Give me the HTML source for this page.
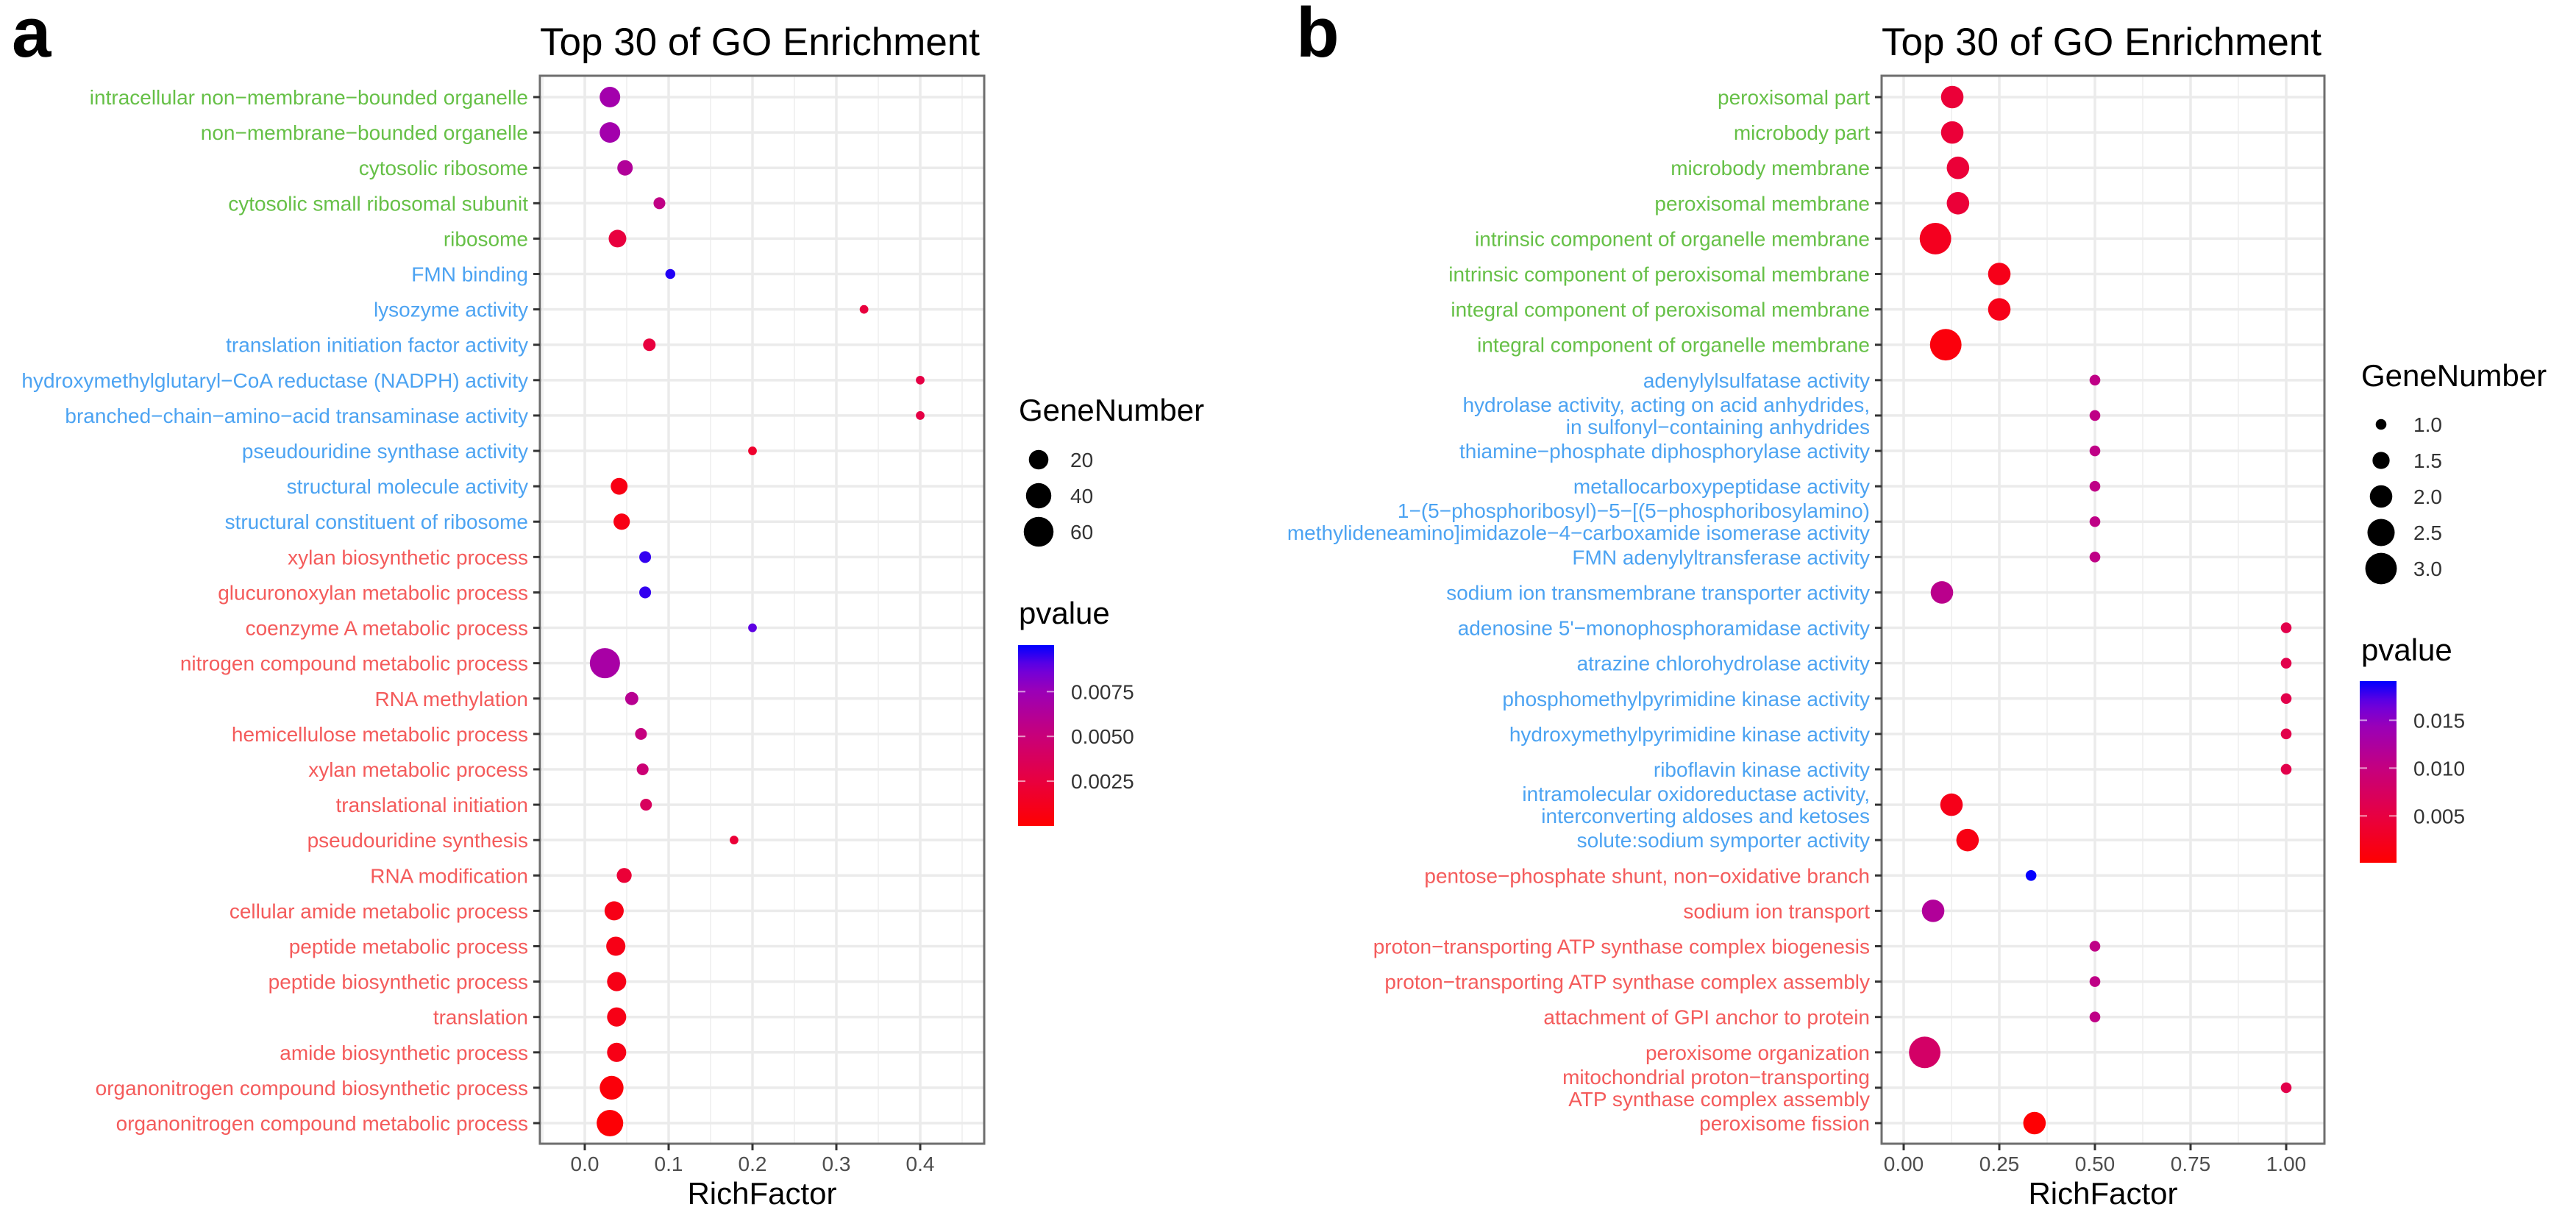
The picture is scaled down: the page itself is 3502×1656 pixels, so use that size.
<!DOCTYPE html>
<html><head><meta charset="utf-8"><style>
html,body{margin:0;padding:0;background:#fff;}
svg{display:block;font-family:"Liberation Sans",Arial,sans-serif;}
</style></head><body>
<svg id="fig" width="3502" height="1656" viewBox="0 0 3502 1656" xmlns="http://www.w3.org/2000/svg">
<rect x="0" y="0" width="3502" height="1656" fill="#fff"/>
<text x="16" y="77" font-size="96" font-weight="bold" fill="#000">a</text>
<text x="1762" y="77" font-size="96" font-weight="bold" fill="#000">b</text>
</svg>
<script>
// ---------- Panel A data ----------
const termsA = ["intracellular non\u2212membrane\u2212bounded organelle","non\u2212membrane\u2212bounded organelle","cytosolic ribosome","cytosolic small ribosomal subunit","ribosome","FMN binding","lysozyme activity","translation initiation factor activity","hydroxymethylglutaryl\u2212CoA reductase (NADPH) activity","branched\u2212chain\u2212amino\u2212acid transaminase activity","pseudouridine synthase activity","structural molecule activity","structural constituent of ribosome","xylan biosynthetic process","glucuronoxylan metabolic process","coenzyme A metabolic process","nitrogen compound metabolic process","RNA methylation","hemicellulose metabolic process","xylan metabolic process","translational initiation","pseudouridine synthesis","RNA modification","cellular amide metabolic process","peptide metabolic process","peptide biosynthetic process","translation","amide biosynthetic process","organonitrogen compound biosynthetic process","organonitrogen compound metabolic process"];
const groupA = ["CC","CC","CC","CC","CC","MF","MF","MF","MF","MF","MF","MF","MF","BP","BP","BP","BP","BP","BP","BP","BP","BP","BP","BP","BP","BP","BP","BP","BP","BP"];
const richA = [0.030,0.030,0.048,0.089,0.039,0.102,0.333,0.077,0.400,0.400,0.200,0.041,0.044,0.072,0.072,0.200,0.024,0.056,0.067,0.069,0.073,0.178,0.047,0.035,0.037,0.038,0.038,0.038,0.032,0.030];
const genesA = [23,23,10,4,15,2,1,5,1,1,1,13,12,4,4,1,62,6,4,4,4,1,9,19,19,19,19,19,34,45];
const pA = [0.0071,0.0071,0.0063,0.0055,0.0025,0.0097,0.0025,0.0025,0.0028,0.0028,0.0018,0.0008,0.0008,0.0095,0.0095,0.0090,0.0068,0.0060,0.0052,0.0048,0.0038,0.0022,0.0022,0.0009,0.0009,0.0009,0.0009,0.0009,0.0004,0.0002];
const xTicksA = [0.0,0.1,0.2,0.3,0.4];
const xTickLabelsA = ["0.0","0.1","0.2","0.3","0.4"];
const sizeBreaksA = [20,40,60];
const pBreaksA = [0.0025,0.0050,0.0075];
const pBreakLabelsA = ["0.0025","0.0050","0.0075"];
const pRangeA = [0.0, 0.0101];

// ---------- Panel B data ----------
const termsB = ["peroxisomal part","microbody part","microbody membrane","peroxisomal membrane","intrinsic component of organelle membrane","intrinsic component of peroxisomal membrane","integral component of peroxisomal membrane","integral component of organelle membrane","adenylylsulfatase activity","hydrolase activity, acting on acid anhydrides,|in sulfonyl\u2212containing anhydrides","thiamine\u2212phosphate diphosphorylase activity","metallocarboxypeptidase activity","1\u2212(5\u2212phosphoribosyl)\u22125\u2212[(5\u2212phosphoribosylamino)|methylideneamino]imidazole\u22124\u2212carboxamide isomerase activity","FMN adenylyltransferase activity","sodium ion transmembrane transporter activity","adenosine 5'\u2212monophosphoramidase activity","atrazine chlorohydrolase activity","phosphomethylpyrimidine kinase activity","hydroxymethylpyrimidine kinase activity","riboflavin kinase activity","intramolecular oxidoreductase activity,|interconverting aldoses and ketoses","solute:sodium symporter activity","pentose\u2212phosphate shunt, non\u2212oxidative branch","sodium ion transport","proton\u2212transporting ATP synthase complex biogenesis","proton\u2212transporting ATP synthase complex assembly","attachment of GPI anchor to protein","peroxisome organization","mitochondrial proton\u2212transporting|ATP synthase complex assembly","peroxisome fission"];
const groupB = ["CC","CC","CC","CC","CC","CC","CC","CC","MF","MF","MF","MF","MF","MF","MF","MF","MF","MF","MF","MF","MF","MF","BP","BP","BP","BP","BP","BP","BP","BP"];
const richB = [0.127,0.127,0.142,0.142,0.083,0.250,0.250,0.110,0.5,0.5,0.5,0.5,0.5,0.5,0.100,1.0,1.0,1.0,1.0,1.0,0.125,0.167,0.333,0.077,0.5,0.5,0.5,0.055,1.0,0.342];
const genesB = [2,2,2,2,3,2,2,3,1,1,1,1,1,1,2,1,1,1,1,1,2,2,1,2,1,1,1,3,1,2];
const pB = [0.0043,0.0043,0.0043,0.0043,0.0024,0.0020,0.0020,0.0010,0.0105,0.0105,0.0105,0.0105,0.0105,0.0105,0.0110,0.0058,0.0058,0.0058,0.0058,0.0058,0.0020,0.0015,0.0190,0.0120,0.0105,0.0105,0.0105,0.0080,0.0058,0.0003];
const xTicksB = [0.0,0.25,0.5,0.75,1.0];
const xTickLabelsB = ["0.00","0.25","0.50","0.75","1.00"];
const sizeBreaksB = [1.0,1.5,2.0,2.5,3.0];
const sizeBreakLabelsB = ["1.0","1.5","2.0","2.5","3.0"];
const pBreaksB = [0.005,0.010,0.015];
const pBreakLabelsB = ["0.005","0.010","0.015"];
const pRangeB = [0.0001, 0.0191];

const NS = "http://www.w3.org/2000/svg";
const svg = document.getElementById("fig");
const groupColor = {CC:"#66C047", MF:"#4CA3F2", BP:"#F45B5B"};

function mk(tag, attrs, parent) {
  const e = document.createElementNS(NS, tag);
  for (const k in attrs) e.setAttribute(k, attrs[k]);
  (parent || svg).appendChild(e);
  return e;
}
function hex(c){return [parseInt(c.slice(1,3),16),parseInt(c.slice(3,5),16),parseInt(c.slice(5,7),16)];}
const stops = [[0,"#FF0000"],[0.25,"#E8003F"],[0.5,"#C8007A"],[0.75,"#9A00B8"],[0.88,"#6800E0"],[1,"#0000FF"]];
function gradColor(t) {
  t = Math.max(0, Math.min(1, t));
  for (let i = 0; i < stops.length - 1; i++) {
    const [t0,c0] = stops[i], [t1,c1] = stops[i+1];
    if (t <= t1) {
      const f = (t - t0) / (t1 - t0), a = hex(c0), b = hex(c1);
      return "rgb(" + a.map((v,j)=>Math.round(v + (b[j]-v)*f)).join(",") + ")";
    }
  }
  return stops[stops.length-1][1];
}

function drawPanel(cfg) {
  const g = mk("g", {});
  
  
  const {left, right, top, bottom, x0, xScale, row0, rowStep} = cfg;
  const xPos = v => x0 + v * xScale;
  const yPos = i => row0 + i * rowStep;
  const title = mk("text", {x: left, y: 75, "font-size": 53, fill: "#000"}, g);
  title.textContent = "Top 30 of GO Enrichment";
  
  
  const bg = mk("rect", {x:left, y:top, width:right-left, height:bottom-top, fill:"#fff"}, g);
  
  
  for (let k = 0; k < cfg.xTicks.length; k++) {
    const step = cfg.xTicks[1] - cfg.xTicks[0];
    [cfg.xTicks[k] - step/2, cfg.xTicks[k] + step/2].forEach(v => {
      const x = xPos(v);
      if (x > left && x < right) {
        const ln = mk("line", {x1:x, x2:x, y1:top, y2:bottom, stroke:"#F2F2F2", "stroke-width":2}, g);
        
        
      }
    });
  }
  cfg.xTicks.forEach(v => {
    const x = xPos(v);
    const ln = mk("line", {x1:x, x2:x, y1:top, y2:bottom, stroke:"#EBEBEB", "stroke-width":3.5}, g);
    
    
  });
  cfg.terms.forEach((t, i) => {
    const y = yPos(i);
    const ln = mk("line", {x1:left, x2:right, y1:y, y2:y, stroke:"#EBEBEB", "stroke-width":3.5}, g);
    
    
  });
  cfg.rich.forEach((v, i) => {
    const r = cfg.radius(cfg.genes[i]);
    const t = (cfg.p[i] - cfg.pRange[0]) / (cfg.pRange[1] - cfg.pRange[0]);
    const c = mk("circle", {cx: xPos(v), cy: yPos(i), r: r.toFixed(2), fill: gradColor(t)}, g);
    
    
  });
  const bd = mk("rect", {x:left, y:top, width:right-left, height:bottom-top, fill:"none", stroke:"#6E6E6E", "stroke-width":3}, g);
  
  
  cfg.terms.forEach((t, i) => {
    const y = yPos(i);
    const tk = mk("line", {x1:left-9, x2:left, y1:y, y2:y, stroke:"#333", "stroke-width":3}, g);
    
    
    const lines = t.split("|");
    lines.forEach((s, j) => {
      const yy = y + (j - (lines.length-1)/2) * 30 + 10;
      const tx = mk("text", {x: left - 16, y: yy, "font-size": 28, "text-anchor": "end", fill: groupColor[cfg.group[i]]}, g);
      tx.textContent = s;
      
      
    });
  });
  cfg.xTicks.forEach((v, k) => {
    const x = xPos(v);
    const tk = mk("line", {x1:x, x2:x, y1:bottom, y2:bottom+9, stroke:"#333", "stroke-width":3}, g);
    
    
    const tx = mk("text", {x:x, y:bottom+37, "font-size":28, "text-anchor":"middle", fill:"#4D4D4D"}, g);
    tx.textContent = cfg.xTickLabels[k];
    
    
  });
  const xt = mk("text", {x:(left+right)/2, y:1637, "font-size":42, "text-anchor":"middle", fill:"#000"}, g);
  xt.textContent = "RichFactor";
  
  

  const L = cfg.legend;
  const st = mk("text", {x:L.x, y:L.sizeTitleY, "font-size":42, fill:"#000"}, g);
  st.textContent = "GeneNumber";
  
  
  cfg.sizeBreaks.forEach((s, k) => {
    const y = L.sizeY0 + k * L.sizeStep;
    const c = mk("circle", {cx:L.dotX, cy:y, r:cfg.radius(s).toFixed(2), fill:"#000"}, g);
    
    
    const tx = mk("text", {x:L.labelX, y:y+10, "font-size":28, fill:"#333"}, g);
    tx.textContent = cfg.sizeBreakLabels[k];
    
    
  });
  const pt = mk("text", {x:L.x, y:L.pTitleY, "font-size":42, fill:"#000"}, g);
  pt.textContent = "pvalue";
  
  
  const gid = cfg.name + "-grad";
  const defs = mk("defs", {}, g);
  const lg = mk("linearGradient", {id:gid, x1:0, y1:1, x2:0, y2:0}, defs);
  for (let k = 0; k <= 20; k++) mk("stop", {offset: k/20, "stop-color": gradColor(k/20)}, lg);
  const barH = L.barBottom - L.barTop;
  const bar = mk("rect", {x:L.barX, y:L.barTop, width:L.barW, height:barH, fill:"url(#"+gid+")"}, g);
  
  
  cfg.pBreaks.forEach((p, k) => {
    const y = L.barBottom - (p - cfg.pRange[0]) / (cfg.pRange[1] - cfg.pRange[0]) * barH;
    mk("line", {x1:L.barX, x2:L.barX+10, y1:y, y2:y, stroke:"#fff", "stroke-width":2, opacity:0.6}, g);
    mk("line", {x1:L.barX+L.barW-10, x2:L.barX+L.barW, y1:y, y2:y, stroke:"#fff", "stroke-width":2, opacity:0.6}, g);
    const tx = mk("text", {x:L.barX+L.barW+23, y:y+10, "font-size":28, fill:"#333"}, g);
    tx.textContent = cfg.pBreakLabels[k];
    
    
  });
}

const rowStep = (1527 - 132) / 29;
drawPanel({
  name: "panel-a", left: 734, right: 1338, top: 103, bottom: 1555,
  x0: 795, xScale: 1140, row0: 132, rowStep: rowStep,
  terms: termsA, group: groupA, rich: richA, genes: genesA, p: pA, pRange: pRangeA,
  xTicks: xTicksA, xTickLabels: xTickLabelsA,
  sizeBreaks: sizeBreaksA, sizeBreakLabels: sizeBreaksA.map(String),
  pBreaks: pBreaksA, pBreakLabels: pBreakLabelsA,
  radius: g => 3.76 + 2.13 * Math.sqrt(g),
  legend: {x:1385, sizeTitleY:572, dotX:1412, labelX:1455, sizeY0:625, sizeStep:49,
           pTitleY:848, barX:1384, barW:49, barTop:877, barBottom:1123}
});
drawPanel({
  name: "panel-b", left: 2558, right: 3160, top: 103, bottom: 1555,
  x0: 2588, xScale: 520, row0: 132, rowStep: rowStep,
  terms: termsB, group: groupB, rich: richB, genes: genesB, p: pB, pRange: pRangeB,
  xTicks: xTicksB, xTickLabels: xTickLabelsB,
  sizeBreaks: sizeBreaksB, sizeBreakLabels: sizeBreakLabelsB,
  pBreaks: pBreaksB, pBreakLabels: pBreakLabelsB,
  radius: g => -12 + 19.3 * Math.sqrt(g),
  legend: {x:3210, sizeTitleY:525, dotX:3237, labelX:3281, sizeY0:577, sizeStep:49,
           pTitleY:898, barX:3208, barW:50, barTop:926, barBottom:1173}
});
</script>
</body></html>
